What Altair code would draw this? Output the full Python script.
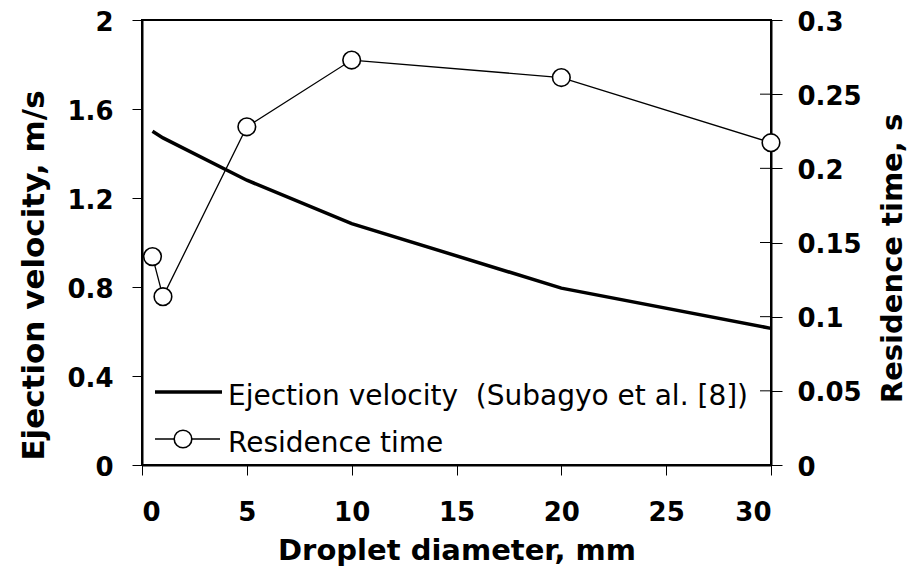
import altair as alt
import pandas as pd

# ---- data ----
diam_vel = [0.5, 1, 5, 10, 20, 30]
velocity = [1.50, 1.47, 1.28, 1.085, 0.795, 0.614]
diam_res = [0.5, 1, 5, 10, 20, 30]
residence = [0.1405, 0.1135, 0.228, 0.273, 0.2612, 0.2173]
x_ticks = [0, 5, 10, 15, 20, 25, 30]
left_ticks = [0, 0.4, 0.8, 1.2, 1.6, 2.0]
right_ticks = [0, 0.05, 0.1, 0.15, 0.2, 0.25, 0.3]
legend_labels = ["Ejection velocity\u00a0\u00a0(Subagyo et al. [8])", "Residence time"]

W, H = 629, 445
FONT = "DejaVu Sans"

df_vel = pd.DataFrame({"d": diam_vel, "v": velocity})
df_res = pd.DataFrame({"d": diam_res, "t": residence})
df_rt = pd.DataFrame({"t": right_ticks})

x_enc = alt.X(
    "d:Q",
    scale=alt.Scale(domain=[0, 30], nice=False),
    axis=alt.Axis(
        values=x_ticks, title="Droplet diameter, mm", tickSize=10,
        labelPadding=24, titlePadding=11, titleFontSize=29,
    ),
)

y_left = alt.Y(
    "v:Q",
    scale=alt.Scale(domain=[0, 2], nice=False),
    axis=alt.Axis(
        orient="left", values=left_ticks, format="~g",
        title="Ejection velocity, m/s", titleAngle=270, titleFontSize=31,
        titleX=-108, titleY=255, titleAlign="center", titleBaseline="middle",
        tickSize=10, labelPadding=19, labelOffset=2,
    ),
)

y_right = alt.Y(
    "t:Q",
    scale=alt.Scale(domain=[0, 0.3], nice=False),
    axis=alt.Axis(
        orient="right", values=right_ticks, format="~g",
        title="Residence time, s", titleAngle=270, titleFontSize=29,
        titleX=121, titleY=238, titleAlign="center", titleBaseline="middle",
        tickSize=11, labelPadding=15, labelOffset=2,
    ),
)

vel = alt.Chart(df_vel).mark_line(color="black", strokeWidth=3.5).encode(
    x=x_enc, y=y_left
)

res_line = alt.Chart(df_res).mark_line(color="black", strokeWidth=1.3).encode(
    x=x_enc, y=y_right
)
res_pts = alt.Chart(df_res).mark_point(
    shape="circle", size=310, filled=True, fill="white", stroke="black",
    strokeWidth=1.6, opacity=1,
).encode(x=x_enc, y=y_right)
inner_ticks = alt.Chart(df_rt).mark_rule(color="black", strokeWidth=1).encode(
    y=y_right, x=alt.value(W - 11), x2=alt.value(W)
)
right = alt.layer(res_line, res_pts, inner_ticks)

# ---- legend (inside plot, lower left) ----
df_l1 = pd.DataFrame({"label": [legend_labels[0]]})
df_l2 = pd.DataFrame({"label": [legend_labels[1]]})

leg1_line = alt.Chart(df_l1).mark_rule(color="black", strokeWidth=3.5).encode(
    x=alt.value(13), x2=alt.value(80), y=alt.value(372)
)
leg2_line = alt.Chart(df_l2).mark_rule(color="black", strokeWidth=1.3).encode(
    x=alt.value(13), x2=alt.value(78), y=alt.value(419)
)
leg2_pt = alt.Chart(df_l2).mark_point(
    shape="circle", size=310, filled=True, fill="white", stroke="black",
    strokeWidth=1.6, opacity=1,
).encode(x=alt.value(41), y=alt.value(419))
leg1_txt = alt.Chart(df_l1).mark_text(
    align="left", baseline="alphabetic", font=FONT, fontSize=28, color="black"
).encode(text="label:N", x=alt.value(86), y=alt.value(385))
leg2_txt = alt.Chart(df_l2).mark_text(
    align="left", baseline="alphabetic", font=FONT, fontSize=28, color="black"
).encode(text="label:N", x=alt.value(86), y=alt.value(432))

chart = (
    alt.layer(vel, right, leg1_line, leg2_line, leg2_pt, leg1_txt, leg2_txt)
    .resolve_scale(y="independent")
    .properties(
        width=W, height=H,
        autosize=alt.AutoSizeParams(type="none"),
        padding={"left": 134, "top": 12, "right": 141, "bottom": 106},
        background="white",
    )
    .configure_view(stroke="black", strokeWidth=2)
    .configure_axis(
        grid=False,
        domainColor="black", domainWidth=2,
        tickColor="black", tickWidth=1,
        labelFont=FONT, labelFontSize=26, labelFontWeight="bold", labelColor="black",
        titleFont=FONT, titleFontSize=30, titleFontWeight="bold", titleColor="black",
    )
)

chart.save("out.html", embed_options={"renderer": "svg", "actions": False})
